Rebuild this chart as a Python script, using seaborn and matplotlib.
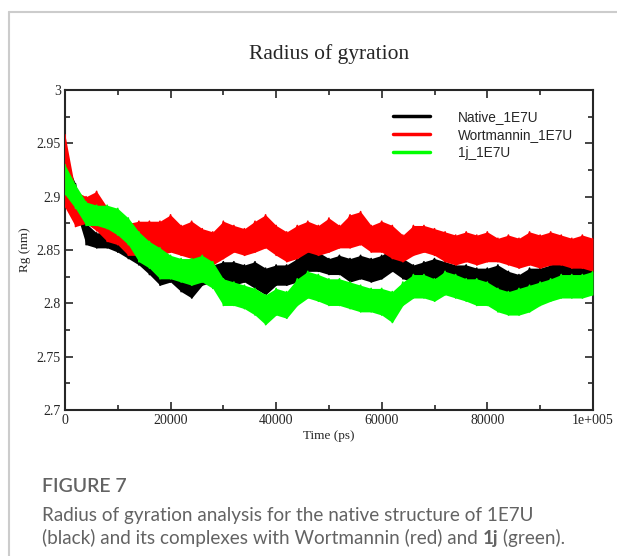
import numpy as np
import pandas as pd
import seaborn as sns
import matplotlib.pyplot as plt
from matplotlib.lines import Line2D
from matplotlib.ticker import FixedLocator, FixedFormatter, MultipleLocator

# Time axis (ps), sampled every 2000 ps
time_ps = np.arange(0, 100001, 2000)

# Upper / lower envelope of each noisy Rg trace (nm)
native_hi = [2.935, 2.912, 2.875, 2.866, 2.867, 2.880, 2.873, 2.861, 2.848, 2.842,
             2.839, 2.836, 2.830, 2.836, 2.836, 2.839, 2.839, 2.836, 2.839, 2.833,
             2.836, 2.836, 2.842, 2.852, 2.848, 2.842, 2.845, 2.842, 2.845, 2.842,
             2.845, 2.852, 2.842, 2.836, 2.839, 2.842, 2.839, 2.836, 2.836, 2.833,
             2.833, 2.836, 2.830, 2.827, 2.833, 2.833, 2.836, 2.839, 2.836, 2.839, 2.836]
native_lo = [2.915, 2.888, 2.855, 2.852, 2.852, 2.848, 2.842, 2.836, 2.827, 2.817,
             2.820, 2.811, 2.805, 2.817, 2.820, 2.823, 2.817, 2.820, 2.814, 2.808,
             2.817, 2.817, 2.820, 2.830, 2.830, 2.827, 2.827, 2.820, 2.823, 2.820,
             2.823, 2.830, 2.823, 2.820, 2.823, 2.823, 2.827, 2.820, 2.817, 2.811,
             2.811, 2.808, 2.805, 2.798, 2.808, 2.811, 2.817, 2.820, 2.820, 2.820, 2.823]

wort_hi = [2.958, 2.905, 2.900, 2.905, 2.890, 2.885, 2.875, 2.877, 2.877, 2.877,
           2.883, 2.873, 2.877, 2.870, 2.867, 2.877, 2.873, 2.870, 2.877, 2.883,
           2.873, 2.867, 2.873, 2.877, 2.873, 2.880, 2.873, 2.883, 2.886, 2.873,
           2.877, 2.873, 2.864, 2.873, 2.873, 2.870, 2.867, 2.864, 2.867, 2.864,
           2.867, 2.861, 2.864, 2.861, 2.867, 2.864, 2.867, 2.864, 2.861, 2.864, 2.861]
wort_lo = [2.890, 2.872, 2.875, 2.868, 2.858, 2.855, 2.845, 2.845, 2.848, 2.845,
           2.848, 2.845, 2.842, 2.842, 2.836, 2.842, 2.848, 2.845, 2.848, 2.852,
           2.845, 2.839, 2.842, 2.848, 2.845, 2.848, 2.852, 2.852, 2.855, 2.848,
           2.848, 2.842, 2.839, 2.845, 2.848, 2.845, 2.839, 2.836, 2.839, 2.836,
           2.839, 2.839, 2.836, 2.833, 2.836, 2.833, 2.836, 2.836, 2.833, 2.833, 2.830]

lig_hi = [2.930, 2.911, 2.895, 2.892, 2.892, 2.889, 2.880, 2.867, 2.858, 2.852,
          2.845, 2.842, 2.842, 2.845, 2.839, 2.823, 2.820, 2.817, 2.814, 2.808,
          2.814, 2.811, 2.823, 2.830, 2.827, 2.823, 2.823, 2.820, 2.817, 2.814,
          2.814, 2.811, 2.820, 2.827, 2.827, 2.823, 2.830, 2.827, 2.823, 2.823,
          2.820, 2.814, 2.811, 2.814, 2.817, 2.820, 2.823, 2.827, 2.827, 2.827, 2.830]
lig_lo = [2.902, 2.889, 2.873, 2.873, 2.870, 2.864, 2.855, 2.839, 2.833, 2.823,
          2.823, 2.820, 2.817, 2.820, 2.814, 2.798, 2.798, 2.795, 2.789, 2.780,
          2.789, 2.786, 2.798, 2.805, 2.802, 2.798, 2.798, 2.795, 2.792, 2.792,
          2.789, 2.782, 2.798, 2.805, 2.805, 2.802, 2.808, 2.805, 2.802, 2.798,
          2.798, 2.792, 2.789, 2.789, 2.792, 2.798, 2.802, 2.805, 2.805, 2.805, 2.808]

series_names = ["Native_1E7U", "Wortmannin_1E7U", "1j_1E7U"]
colors = ["#000000", "#ff0000", "#00ff00"]
x_tick_vals = [0, 20000, 40000, 60000, 80000, 100000]
x_tick_labels = ["0", "20000", "40000", "60000", "80000", "1e+005"]
y_tick_vals = [2.7, 2.75, 2.8, 2.85, 2.9, 2.95, 3.0]
y_tick_labels = ["2.7", "2.75", "2.8", "2.85", "2.9", "2.95", "3"]

sns.set_style("ticks")
serif = "Liberation Serif"

fig = plt.figure(figsize=(6.17, 5.56), dpi=100)
ax = fig.add_axes([0.1053, 0.2626, 0.8557, 0.5755])

envelopes = [(native_hi, native_lo), (wort_hi, wort_lo), (lig_hi, lig_lo)]

# same order as the legend: black, red, green (green ends on top)
for z, (name, col, (hi, lo)) in enumerate(zip(series_names, colors, envelopes)):
    # zig-zag trace between the upper and lower readings
    tt, vv = [], []
    for t, h, l in zip(time_ps, hi, lo):
        tt += [t, t]
        vv += [h, l]
    df = pd.DataFrame({"time": tt, "rg": vv})
    sns.lineplot(data=df, x="time", y="rg", ax=ax, color=col, lw=1.2,
                 sort=False, estimator=None, zorder=2 + z)
    ax.fill_between(time_ps, lo, hi, color=col, lw=0, zorder=2 + z)

ax.set_xlim(0, 100000)
ax.set_ylim(2.7, 3.0)
ax.xaxis.set_major_locator(FixedLocator(x_tick_vals))
ax.xaxis.set_major_formatter(FixedFormatter(x_tick_labels))
ax.xaxis.set_minor_locator(MultipleLocator(10000))
ax.yaxis.set_major_locator(FixedLocator(y_tick_vals))
ax.yaxis.set_major_formatter(FixedFormatter(y_tick_labels))
ax.yaxis.set_minor_locator(MultipleLocator(0.025))

ax.tick_params(which="both", direction="in", top=True, right=True, width=1.2,
               labelsize=10, pad=3)
ax.tick_params(which="major", length=6)
ax.tick_params(which="minor", length=3.5)
for lab in ax.get_xticklabels() + ax.get_yticklabels():
    lab.set_fontfamily(serif)
for sp in ax.spines.values():
    sp.set_linewidth(1.5)
    sp.set_visible(True)

ax.set_xlabel("Time (ps)", fontfamily=serif, fontsize=9.5, labelpad=2)
ax.set_ylabel("Rg (nm)", fontfamily=serif, fontsize=9.5, labelpad=4)
ax.set_title("Radius of gyration", fontfamily=serif, fontsize=15.5, pad=22)

handles = [Line2D([], [], color=c, lw=2.5) for c in colors]
ax.legend(handles, series_names, loc="upper left", bbox_to_anchor=(0.626, 0.815),
          bbox_transform=fig.transFigure, frameon=False, borderpad=0,
          handlelength=2.75, handletextpad=2.0, labelspacing=0.3,
          prop={"family": "Liberation Sans", "size": 9.8})

# card border
fig.add_artist(Line2D([9 / 617, 1], [1 - 12 / 556, 1 - 12 / 556],
                      transform=fig.transFigure, color="#cccccc", lw=1.5))
fig.add_artist(Line2D([9 / 617, 9 / 617], [0, 1 - 12 / 556],
                      transform=fig.transFigure, color="#cccccc", lw=1.5))

cap = "#636363"
capfont = "Lato"
fig.text(42 / 617, 1 - 487 / 556, "FIGURE 7", fontfamily=capfont,
         fontweight="semibold", fontsize=14, color=cap, va="center")
fig.text(42 / 617, 1 - 516 / 556,
         "Radius of gyration analysis for the native structure of 1E7U",
         fontfamily=capfont, fontsize=13.6, color=cap, va="center")
t1 = fig.text(42 / 617, 1 - 538 / 556,
              "(black) and its complexes with Wortmannin (red) and ",
              fontfamily=capfont, fontsize=13.6, color=cap, va="center")
t2 = ax.annotate("1j", xy=(1, 0), xycoords=t1, va="bottom", ha="left",
                 fontfamily=capfont, fontweight="bold", fontsize=13.6,
                 color=cap, annotation_clip=False)
ax.annotate(" (green).", xy=(1, 0), xycoords=t2, va="bottom", ha="left",
            fontfamily=capfont, fontsize=13.6, color=cap,
            annotation_clip=False)

fig.savefig("out.png", dpi=100)
